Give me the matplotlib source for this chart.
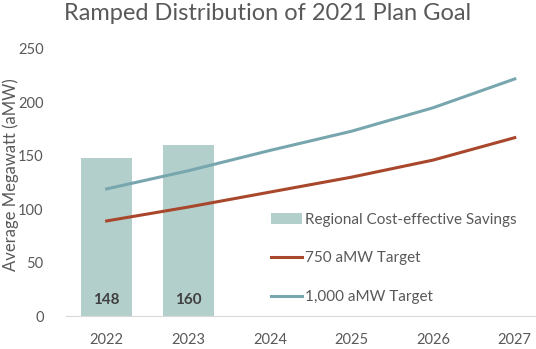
import numpy as np
import matplotlib
matplotlib.use("Agg")
import matplotlib.pyplot as plt

# Plan years and savings
years = ["2022", "2023", "2024", "2025", "2026", "2027"]
savings = [148, 160]                      # achieved cost-effective savings (aMW)
target_750 = [89, 102, 116, 130, 146, 167]
target_1000 = [119, 136, 155, 173, 195, 222]

bar_color = "#B3CFCB"
red = "#A8472B"
teal = "#78A6AE"
text_color = "#595959"

plt.rcParams["font.family"] = ["Lato", "DejaVu Sans"]

W, H = 536, 349
fig = plt.figure(figsize=(W / 100, H / 100), dpi=100)
ax = fig.add_axes([65.8 / W, 33 / H, (W - 65.8) / W, 267 / H])

x = np.arange(len(years))
bars = ax.bar(x[:len(savings)], savings, width=0.62, color=bar_color,
              label="Regional Cost-effective Savings", zorder=1)
l750, = ax.plot(x, target_750, color=red, lw=2.2, label="750 aMW Target", zorder=3)
l1000, = ax.plot(x, target_1000, color=teal, lw=2.2, label="1,000 aMW Target", zorder=3)

for xi, v in zip(x, savings):
    ax.text(xi, 8, str(v), ha="center", va="bottom", fontsize=11,
            fontweight="bold", color="#404040")

ax.set_xlim(-0.5, 5.26)
ax.set_ylim(0, 250)
ax.set_yticks(range(0, 251, 50))
ax.set_xticks(x)
ax.set_xticklabels(years)
ax.tick_params(axis="both", length=0, labelsize=10.5, colors=text_color)
ax.tick_params(axis="y", pad=16)
ax.tick_params(axis="x", pad=12)
for s in ["top", "right", "left"]:
    ax.spines[s].set_visible(False)
ax.spines["bottom"].set_color("#D9D9D9")

fig.text(11 / W, 0.5, "Average Megawatt (aMW)", rotation=90, ha="center",
         va="center", fontsize=12, color=text_color)
fig.text(0.5, 1 - 3 / H, "Ramped Distribution of 2021 Plan Goal", ha="center",
         va="top", fontsize=17, color=text_color)

leg = fig.legend(handles=[bars, l750, l1000], loc="upper left",
                 bbox_to_anchor=(271 / W, 1 - 213 / H),
                 bbox_transform=fig.transFigure, frameon=False, fontsize=11,
                 labelspacing=1.6, handlelength=2.0, handletextpad=0.2,
                 borderpad=0, borderaxespad=0)
for t in leg.get_texts():
    t.set_color(text_color)

fig.savefig("out.png", dpi=100)
